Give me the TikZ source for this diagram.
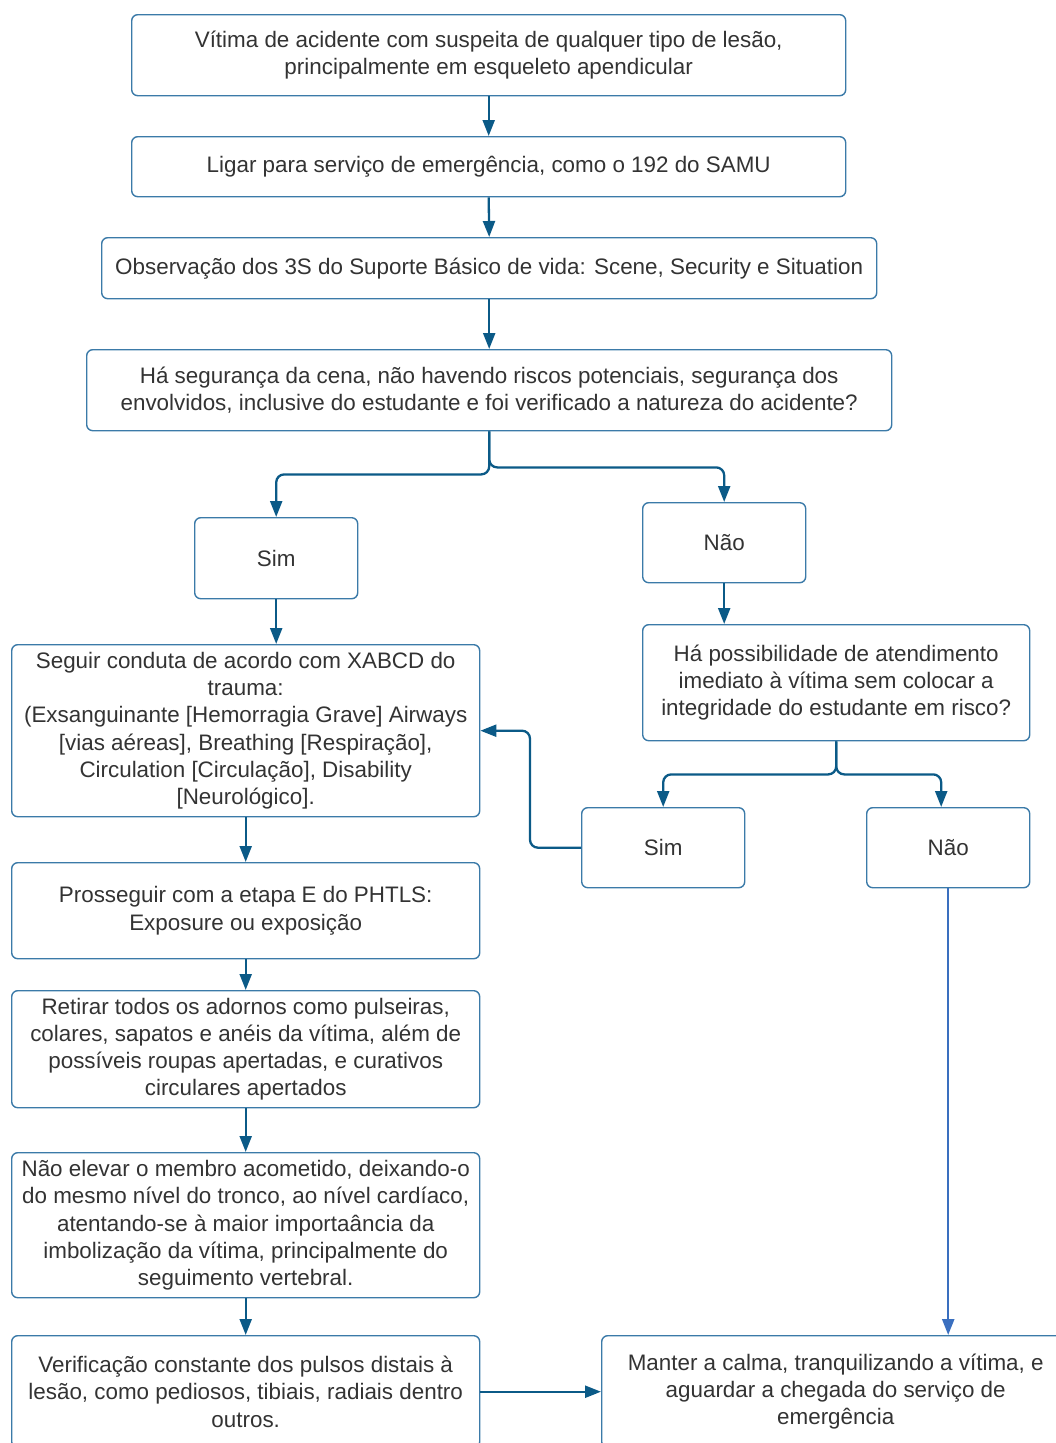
\documentclass[tikz,border=0pt]{standalone}
\usepackage{fontspec}
\setmainfont{Liberation Sans}
\usetikzlibrary{arrows.meta}
\definecolor{boxline}{HTML}{3B7AA8}
\definecolor{linkline}{HTML}{0B5A87}
\definecolor{lightlink}{HTML}{3A6FBF}
\definecolor{txt}{HTML}{333333}
\begin{document}
\begin{tikzpicture}[x=1pt,y=-1pt,
  box/.style={draw=boxline,line width=1.4pt,rounded corners=6pt,fill=white,
    anchor=north west,align=center,text=txt,inner sep=0pt,
    font=\fontsize{22.4}{27.3}\selectfont},
  conn/.style={draw=linkline,line width=2.3pt,rounded corners=8pt,
    -{Triangle[width=12pt,length=16pt]}},
  connlight/.style={conn,draw=lightlink}]
\useasboundingbox (0,0) rectangle (1056,1443);
\clip (0,0) rectangle (1056,1443);

% main column
\node[box,minimum width=714,minimum height=81] (vitima) at (131,14)
  {Vítima de acidente com suspeita de qualquer tipo de lesão,\\principalmente em esqueleto apendicular};
\node[box,minimum width=714,minimum height=60] (ligar) at (131,136)
  {Ligar para serviço de emergência, como o 192 do SAMU};
\node[box,minimum width=775,minimum height=61] (obs) at (101,237)
  {Observação dos 3S do Suporte Básico de vida: Scene, Security e Situation};
\node[box,minimum width=805,minimum height=81] (seg) at (86,349)
  {Há segurança da cena, não havendo riscos potenciais, segurança dos\\envolvidos, inclusive do estudante e foi verificado a natureza do acidente?};

% first decision
\node[box,minimum width=163,minimum height=81] (sim) at (194,517) {Sim};
\node[box,minimum width=163,minimum height=80] (nao) at (642,502) {Não};
\node[box,minimum width=387,minimum height=116] (poss) at (642,624)
  {Há possibilidade de atendimento\\imediato à vítima sem colocar a\\integridade do estudante em risco?};

% second decision
\node[box,minimum width=163,minimum height=80] (simb) at (581,807) {Sim};
\node[box,minimum width=163,minimum height=80] (naob) at (866,807) {Não};

% left column of procedures
\node[box,minimum width=468,minimum height=172] (xabcd) at (11,644)
  {Seguir conduta de acordo com XABCD do\\trauma:\\(Exsanguinante [Hemorragia Grave] Airways\\{[vias aéreas]}, Breathing [Respiração],\\Circulation [Circulação], Disability\\{[Neurológico]}.};
\node[box,minimum width=468,minimum height=96] (phtls) at (11,862)
  {Prosseguir com a etapa E do PHTLS:\\Exposure ou exposição};
\node[box,minimum width=468,minimum height=117] (adornos) at (11,990)
  {Retirar todos os adornos como pulseiras,\\colares, sapatos e anéis da vítima, além de\\possíveis roupas apertadas, e curativos\\circulares apertados};
\node[box,minimum width=468,minimum height=145] (membro) at (11,1152)
  {Não elevar o membro acometido, deixando-o\\do mesmo nível do tronco, ao nível cardíaco,\\atentando-se à maior importaância da\\imbolização da vítima, principalmente do\\seguimento vertebral.};
\node[box,minimum width=468,minimum height=112] (pulsos) at (11,1335)
  {Verificação constante dos pulsos distais à\\lesão, como pediosos, tibiais, radiais dentro\\outros.};
\node[box,minimum width=468,minimum height=112] (calma) at (601,1335)
  {Manter a calma, tranquilizando a vítima, e\\aguardar a chegada do serviço de\\emergência};

% connectors
\draw[conn] (vitima.south) -- (ligar.north);
\draw[conn] (ligar.south) -- (obs.north);
\draw[conn] (obs.south) -- (seg.north);
\draw[conn] (seg.south) -- ++(0,43) -| (sim.north);
\draw[conn] (seg.south) -- ++(0,36) -| (nao.north);
\draw[conn] (sim.south) -- (sim.south |- xabcd.north);
\draw[conn] (nao.south) -- (nao.south |- poss.north);
\draw[conn] (poss.south) -- ++(0,33) -| (simb.north);
\draw[conn] (poss.south) -- ++(0,33) -| ([xshift=-7]naob.north);
\draw[conn] (simb.west) -- ++(-51,0) |- (xabcd.east);
\draw[connlight] (naob.south) -- (naob.south |- calma.north);
\draw[conn] (xabcd.south) -- (phtls.north);
\draw[conn] (phtls.south) -- (adornos.north);
\draw[conn] (adornos.south) -- (membro.north);
\draw[conn] (membro.south) -- (pulsos.north);
\draw[conn] (pulsos.east) -- (calma.west);
\end{tikzpicture}
\end{document}
